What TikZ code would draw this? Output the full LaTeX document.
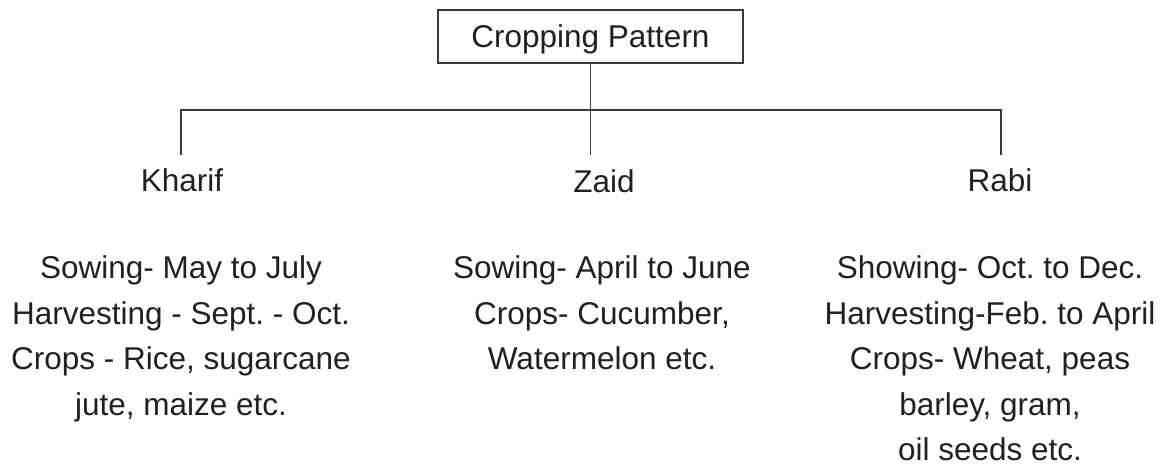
\documentclass[tikz,border=0pt]{standalone}
\usepackage{fontspec}
\setmainfont{Liberation Sans}
\frenchspacing
\definecolor{ink}{HTML}{231F20}
\definecolor{rule}{HTML}{3A3A3A}
\begin{document}
\begin{tikzpicture}[x=1pt,y=-1pt,
  txt/.style={inner sep=0pt,anchor=base,text=ink,font=\fontsize{31.5}{38}\selectfont},
  titlebox/.style={draw=rule,line width=1.4pt,minimum width=305pt,minimum height=53pt,inner sep=0pt,
    text height=26pt,text depth=5pt,text=ink,font=\fontsize{31.5}{38}\selectfont},
  link/.style={draw=rule,line width=1.4pt}]
\useasboundingbox (0,0) rectangle (1167,467);
\node[titlebox] (top) at (590.5,36.5) {Cropping Pattern};
\coordinate (hl) at (181,110);
\coordinate (hr) at (1001,110);
\coordinate (kl) at (181,155);
\coordinate (zl) at (590.5,155);
\coordinate (rl) at (1001,155);
\draw[link] (kl) -- (hl) -- (hr) -- (rl);
\draw[link] (top.south) -- (zl);
\node[txt] (kh) at (182,191) {Kharif};
\node[txt] (za) at (604,192) {Zaid};
\node[txt] (ra) at (1000,191) {Rabi};
% Kharif
\node[txt] (k1) at (181,278) {Sowing- May to July};
\node[txt] (k2) at (181,324) {Harvesting - Sept. - Oct.};
\node[txt] (k3) at (181,369) {Crops - Rice, sugarcane};
\node[txt] (k4) at (181,415) {jute, maize etc.};
% Zaid
\node[txt] (z1) at (602,278) {Sowing- April to June};
\node[txt] (z2) at (602,324) {Crops- Cucumber,};
\node[txt] (z3) at (602,369) {Watermelon etc.};
% Rabi
\node[txt] (r1) at (990,278) {Showing- Oct. to Dec.};
\node[txt] (r2) at (990,324) {Harvesting-Feb. to April};
\node[txt] (r3) at (990,369) {Crops- Wheat, peas};
\node[txt] (r4) at (990,415) {barley, gram,};
\node[txt] (r5) at (990,460) {oil seeds etc.};
\end{tikzpicture}
\end{document}
